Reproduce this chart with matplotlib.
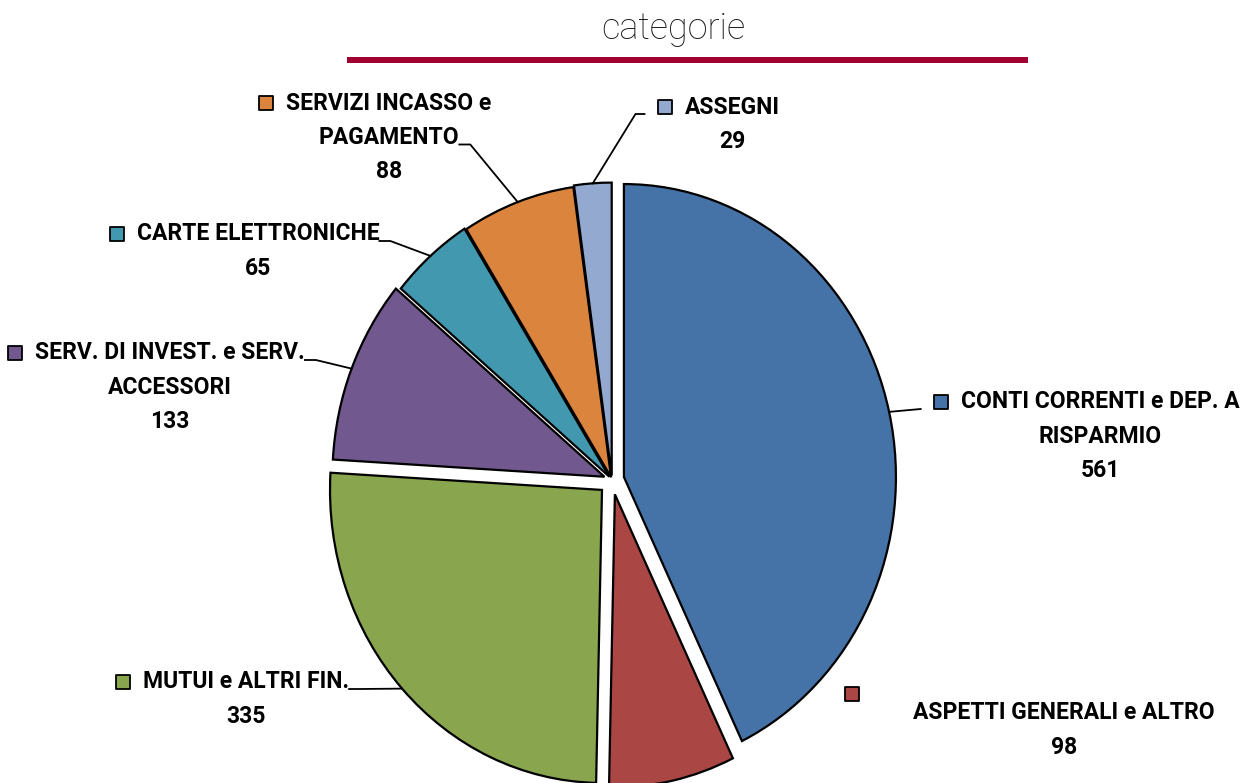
import numpy as np
import matplotlib
matplotlib.use("Agg")
import matplotlib.pyplot as plt
from matplotlib.lines import Line2D

# data
categories = [
    "CONTI CORRENTI e DEP. A\nRISPARMIO",
    "ASPETTI GENERALI e ALTRO",
    "MUTUI e ALTRI FIN.",
    "SERV. DI INVEST. e SERV.\nACCESSORI",
    "CARTE ELETTRONICHE",
    "SERVIZI INCASSO e\nPAGAMENTO",
    "ASSEGNI",
]
values = [561, 98, 335, 133, 65, 88, 29]
colors = ["#4572A7", "#AA4643", "#89A54E", "#71588F", "#4198AF", "#DB843D", "#93A9CF"]
explode = [0.045, 0.05, 0.05, 0.03, 0.015, 0.01, 0.015]

W, H = 1246, 783
CX, CY = 612, 480      # pie centre in pixels
RX, RY = 272, 293      # pie radius in pixels (slightly oval)

LABEL_FONT = ["Roboto", "DejaVu Sans"]
FS = 16.5
LINE_GAP = 34.5

# label layout: centre x, y of first line (pixels), which line the leader leaves from, side
label_pos = [
    (1100, 402, 0, "right"),
    (1064, 713, None, None),
    (246, 682, 0, "left"),
    (170, 353, 0, "left"),
    (258, 234, 0, "left"),
    (389, 103, 1, "left"),
    (732, 107, 0, "right"),
]


def px(x, y):
    return (x - CX) / RX, (CY - y) / RY


def main():
    fig = plt.figure(figsize=(W / 100, H / 100), dpi=100)
    ax = fig.add_axes([0, 0, 1, 1])

    wedges, _ = ax.pie(values, colors=colors, explode=explode, startangle=90,
                       counterclock=False, radius=1,
                       wedgeprops=dict(edgecolor="black", linewidth=1.6))
    ax.set_aspect("auto")
    ax.set_xlim(-CX / RX, (W - CX) / RX)
    ax.set_ylim((CY - H) / RY, CY / RY)
    ax.axis("off")

    # title with the red rule
    fig.text(673 / W, 1 - 29 / H, "categorie", ha="center", va="center",
             fontsize=26, family=["Roboto", "DejaVu Sans"], fontweight="light",
             color="#1a1a1a")
    fig.add_artist(Line2D([347 / W, 1028 / W], [1 - 60 / H, 1 - 60 / H],
                          color="#A00030", lw=4.3, solid_capstyle="butt",
                          transform=fig.transFigure))

    # labels
    texts = []
    for cat, val, (lx, ly, _, _) in zip(categories, values, label_pos):
        lines = cat.split("\n") + [str(val)]
        ts = []
        for i, line in enumerate(lines):
            t = ax.text(*px(lx, ly + i * LINE_GAP), line, ha="center", va="center",
                        fontsize=FS, fontweight="bold", family=LABEL_FONT,
                        color="black")
            ts.append(t)
        texts.append(ts)

    fig.canvas.draw()
    renderer = fig.canvas.get_renderer()

    for k, (wedge, ts) in enumerate(zip(wedges, texts)):
        lx, ly, lead_line, side = label_pos[k]
        bb0 = ts[0].get_window_extent(renderer)
        first_left = bb0.x0
        if lead_line is None:
            # legend key sits on its own above-left of the text
            sq_x, sq_y = 852, 694
        else:
            sq_x, sq_y = first_left - 20, ly
        ax.scatter(*px(sq_x, sq_y), marker="s", s=100, color=colors[k],
                   edgecolor="black", linewidth=1.3, zorder=5)

        if lead_line is None:
            continue
        # point on the wedge rim at its middle angle
        mid = np.deg2rad((wedge.theta1 + wedge.theta2) / 2)
        cx, cy = wedge.center
        ex, ey = cx + np.cos(mid), cy + np.sin(mid)
        bb = ts[lead_line].get_window_extent(renderer)
        yline = ly + lead_line * LINE_GAP + 7
        if side == "left":
            sx = bb.x1
            xs_px = [sx, sx + 11]
        else:
            sx = sq_x - 20
            xs_px = [sx, sx - 9] if k == 6 else [sx]
        pts = [px(x, yline) for x in xs_px] + [(ex, ey)]
        ax.plot([p[0] for p in pts], [p[1] for p in pts], color="black", lw=1.3)

    fig.savefig("out.png", dpi=100, facecolor="white")


if __name__ == "__main__":
    main()
